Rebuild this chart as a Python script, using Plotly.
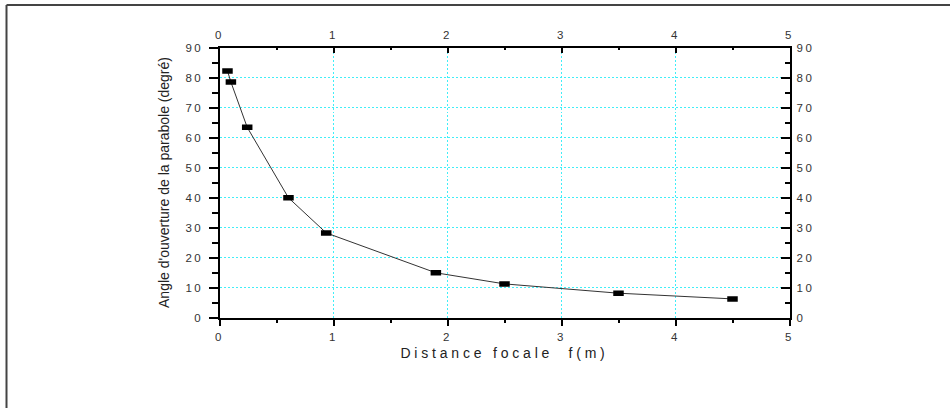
import plotly.graph_objects as go

# Data
focal_distance = [0.07, 0.10, 0.243, 0.605, 0.936, 1.898, 2.50, 3.50, 4.50]
opening_angle = [82.2, 78.5, 63.4, 39.9, 28.2, 14.9, 11.2, 8.1, 6.2]

x_ticks = [0, 1, 2, 3, 4, 5]
y_ticks = [0, 10, 20, 30, 40, 50, 60, 70, 80, 90]

x_title = "Distance focale&nbsp;&nbsp;f(m)"
y_title = "Angle d'ouverture de la parabole (degré)"

W, H = 950, 408
L, R, T, B = 219, 160, 47, 90
gw = W - L - R   # 571
gh = H - T - B   # 271
xdom = [0.5 / gw, 570.5 / gw]
ydom = [0.5 / gh, 270.5 / gh]


def sp(t, s=2.5):
    return f'<span style="letter-spacing:{s}px">{t}</span>'


tick_font = dict(family="Liberation Sans, Arial, sans-serif", size=11.5, color="#333333")
grid_col = "#40eef8"

fig = go.Figure()
fig.add_trace(go.Scatter(
    x=focal_distance, y=opening_angle, mode="lines+markers",
    line=dict(color="#333333", width=1),
    marker=dict(symbol="line-ew", size=7.5, line=dict(color="black", width=5.5)),
    showlegend=False, hoverinfo="x+y",
))
# companion trace on the secondary (top/right) axes so they are drawn
fig.add_trace(go.Scatter(x=focal_distance, y=opening_angle, xaxis="x2", yaxis="y2",
                         mode="markers", marker=dict(opacity=0), showlegend=False, hoverinfo="skip"))

fig.update_layout(
    width=W, height=H,
    margin=dict(l=L, r=R, t=T, b=B),
    paper_bgcolor="white", plot_bgcolor="white",
    xaxis=dict(
        domain=xdom, range=[0, 5], tickmode="array", tickvals=x_ticks,
        ticktext=[sp(v) for v in x_ticks],
        showline=True, linecolor="black", linewidth=2,
        ticks="outside", ticklen=6, tickwidth=1.5, tickcolor="black",
        minor=dict(dtick=0.5, ticks="outside", ticklen=3, tickwidth=1.5, tickcolor="black", showgrid=False),
        showgrid=True, gridcolor=grid_col, griddash="2px,2px", gridwidth=1.2,
        zeroline=False, tickfont=tick_font, ticklabelstandoff=2,
        title=dict(text=sp(x_title, 3.8), font=dict(family="Liberation Sans, Arial, sans-serif", size=14, color="#222222"), standoff=6),
    ),
    yaxis=dict(
        domain=ydom, range=[0, 90], tickmode="array", tickvals=y_ticks,
        ticktext=[sp(v) for v in y_ticks],
        showline=True, linecolor="black", linewidth=2,
        ticks="outside", ticklen=9, tickwidth=1.5, tickcolor="black",
        minor=dict(dtick=5, ticks="outside", ticklen=6, tickwidth=1.5, tickcolor="black", showgrid=False),
        showgrid=True, gridcolor=grid_col, griddash="2px,2px", gridwidth=1.2,
        zeroline=False, tickfont=tick_font, ticklabelstandoff=3,
        title=dict(text=y_title, font=dict(family="Liberation Sans, Arial, sans-serif", size=14, color="#222222"), standoff=13),
    ),
    xaxis2=dict(
        domain=xdom, overlaying="x", side="top", matches="x", range=[0, 5],
        tickmode="array", tickvals=x_ticks, ticktext=[sp(v) for v in x_ticks],
        showline=True, linecolor="black", linewidth=1.5,
        ticks="inside", ticklen=6, tickwidth=1.5, tickcolor="black",
        minor=dict(dtick=0.5, ticks="inside", ticklen=3, tickwidth=1.5, tickcolor="black", showgrid=False),
        showgrid=False, zeroline=False, tickfont=tick_font, ticklabelstandoff=2,
    ),
    yaxis2=dict(
        domain=ydom, overlaying="y", side="right", matches="y", range=[0, 90],
        tickmode="array", tickvals=y_ticks, ticktext=[sp(v) for v in y_ticks],
        showline=True, linecolor="black", linewidth=1.5,
        ticks="inside", ticklen=9, tickwidth=1.5, tickcolor="black",
        minor=dict(dtick=5, ticks="inside", ticklen=5, tickwidth=1.5, tickcolor="black", showgrid=False),
        showgrid=False, zeroline=False, tickfont=tick_font, ticklabelstandoff=3,
    ),
)


def px_to_paper(px, py):
    return (px - L) / gw, (H - B - py) / gh


x0, y0 = px_to_paper(6.5, 5)
x1, _ = px_to_paper(W + 5, 5)
_, y1 = px_to_paper(6.5, H + 5)
fig.add_shape(type="line", xref="paper", yref="paper", x0=x0, y0=y0, x1=x1, y1=y0,
              line=dict(color="#444444", width=2))
fig.add_shape(type="line", xref="paper", yref="paper", x0=x0, y0=y0, x1=x0, y1=y1,
              line=dict(color="#444444", width=2))

fig.write_html("out.html")
